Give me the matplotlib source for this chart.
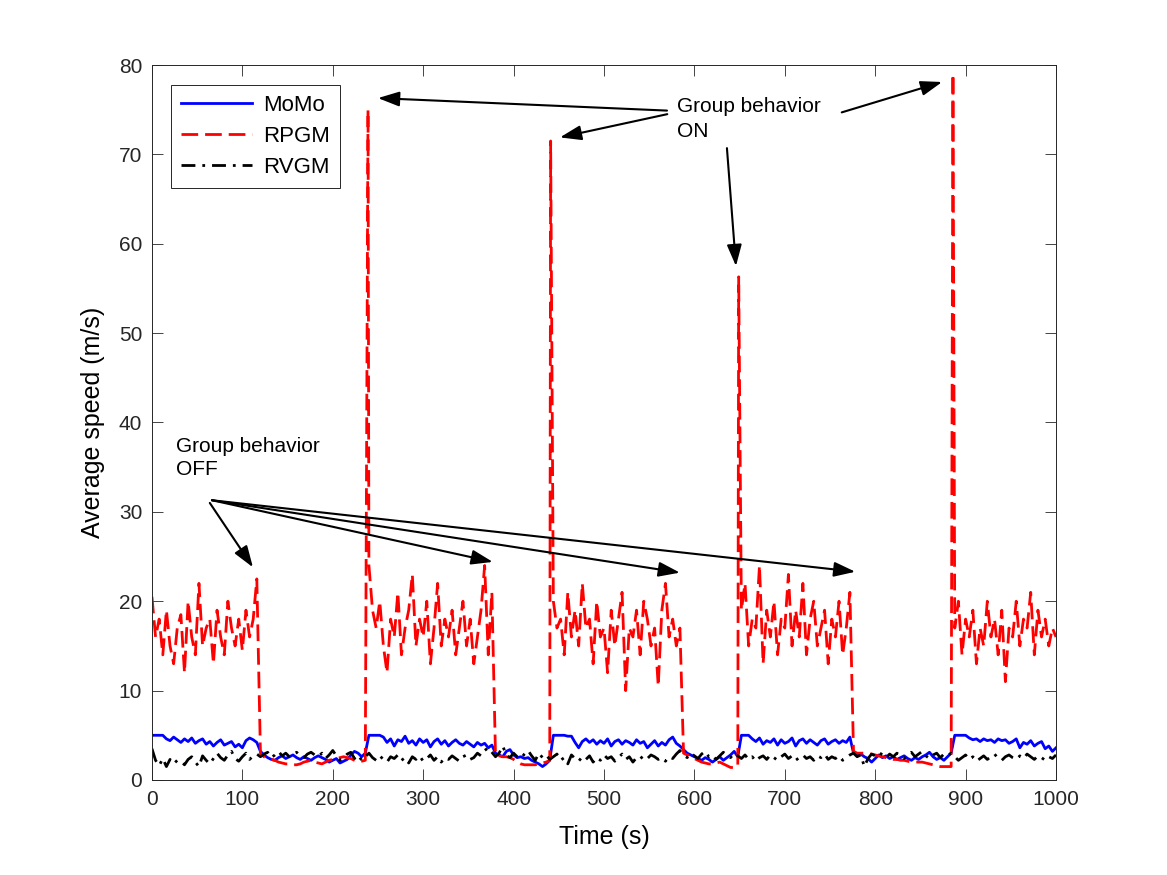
import numpy as np
import matplotlib
matplotlib.use("Agg")
import matplotlib.pyplot as plt

# ---------------- data ----------------
time = np.arange(0, 1001, 4)

momo = [
    # 0..116
    5, 5, 5, 5, 4.6, 4.4, 4.8, 4.5, 4.2, 4.6, 4.3, 4.7, 4.1, 4.4, 4.6, 4.0, 4.3, 3.8, 4.2, 4.5,
    3.9, 4.1, 4.3, 3.7, 4.0, 3.6, 4.4, 4.7, 4.5, 4.2,
    # 120..236
    3.2, 2.8, 2.5, 2.3, 2.2, 2.5, 2.7, 2.4, 2.6, 2.8, 2.5, 2.3, 2.6, 2.4, 2.2, 2.5, 2.7, 2.5, 2.3, 2.0,
    2.2, 2.4, 1.9, 2.1, 2.3, 2.8, 3.2, 3.0, 2.6, 3.0,
    # 240..376
    5, 5, 5, 5, 4.8, 4.2, 4.6, 3.8, 4.5, 4.3, 4.9, 4.1, 4.4, 3.9, 4.6, 4.2, 4.5, 3.7, 4.3, 4.6,
    4.0, 4.4, 3.8, 4.2, 4.5, 4.1, 3.9, 4.3, 4.0, 3.7, 4.2, 3.9, 4.1, 3.6, 3.9,
    # 380..440
    3.0, 2.8, 2.6, 3.2, 3.4, 2.8, 2.5, 2.6, 2.4, 2.5, 2.2, 2.0, 1.8, 1.5, 1.8, 2.2,
    # 444..584
    5, 5, 5, 5, 4.9, 4.9, 4.2, 3.6, 4.3, 4.6, 4.2, 4.5, 4.0, 4.4, 4.1, 4.6, 3.8, 4.3, 4.5, 4.0,
    4.4, 4.2, 3.9, 4.5, 4.1, 4.3, 3.6, 4.0, 4.4, 3.8, 4.2, 3.9, 4.5, 4.8, 4.1, 3.8,
    # 588..648
    3.4, 3.0, 2.8, 2.6, 2.4, 2.2, 2.5, 2.3, 2.0, 2.3, 2.6, 2.2, 2.5, 2.8, 3.2, 2.6,
    # 652..772
    5, 5, 5, 4.6, 4.3, 4.7, 4.0, 4.4, 4.2, 4.6, 3.9, 4.5, 4.1, 4.3, 4.7, 3.8, 4.4, 4.6, 4.1, 4.5,
    4.2, 3.9, 4.4, 4.6, 4.0, 4.3, 4.5, 4.1, 4.4, 4.2, 4.8,
    # 776..884
    3.0, 2.8, 2.9, 2.6, 2.4, 2.0, 2.4, 2.8, 2.5, 2.7, 2.4, 2.6, 2.3, 2.5, 2.7, 2.4, 2.2, 2.5, 2.3, 2.6,
    2.8, 3.1, 2.6, 2.3, 2.5, 2.2, 2.6, 3.0,
    # 888..1000
    5, 5, 5, 5, 4.7, 4.5, 4.6, 4.3, 4.6, 4.4, 4.5, 4.2, 4.6, 4.4, 4.5, 4.1, 4.3, 4.6, 3.6, 4.2,
    4.0, 4.4, 3.8, 4.1, 4.3, 3.5, 3.8, 3.2, 3.6,
]

rpgm = [
    # 0..116
    20.5, 16, 18, 14, 19, 15, 13, 17, 18.5, 12, 20, 16, 14, 22, 15, 17, 18, 13, 19, 16,
    14, 20, 17, 15, 18, 14.5, 19, 16, 18, 22.5,
    # 120..236
    3.0, 2.6, 2.4, 2.3, 2.2, 2.0, 1.9, 1.8, 1.8, 1.7, 1.7, 1.8, 2.0, 2.1, 2.2, 2.0, 1.9, 1.8, 2.0, 2.2,
    2.3, 2.4, 2.5, 2.6, 2.5, 2.4, 2.2, 2.0, 2.1, 2.2,
    # 240..376
    24, 19, 17, 20, 15, 12, 18, 16, 21, 14, 17, 19, 23, 15, 18, 16, 20, 13, 17, 22,
    15, 18, 16, 19, 14, 17, 20, 15, 18, 13, 16, 19, 24, 14, 21,
    # 380..440
    2.8, 2.7, 2.6, 2.6, 2.5, 2.3, 2.0, 1.8, 1.7, 1.7, 1.7, 1.7, 1.8, 1.9, 2.0, 2.2,
    # 444..584
    20, 17, 18, 14, 21, 16, 19, 15, 22, 17, 18, 13, 20, 16, 17, 12, 19, 15, 18, 21,
    10, 17, 16, 19, 14, 20, 18, 15, 17, 10.5, 19, 22, 16, 18, 15, 17,
    # 588..648
    3.0, 2.8, 2.6, 2.4, 2.2, 2.0, 1.9, 1.8, 1.8, 1.9, 2.0, 1.8, 1.6, 1.4, 1.4, 1.5,
    # 652..772
    19, 22, 15, 18, 17, 24, 13, 19, 16, 20, 14, 18, 17, 23, 15, 19, 16, 22, 14, 18,
    20, 15, 17, 19, 13, 18, 16, 20, 14, 17, 21,
    # 776..884
    3.2, 3.0, 3.0, 3.0, 2.9, 2.9, 2.8, 2.7, 2.6, 2.5, 2.4, 2.3, 2.3, 2.2, 2.2, 2.1, 2.0, 2.0, 2.0, 2.0,
    1.9, 1.8, 1.7, 1.6, 1.5, 1.5, 1.5, 1.5,
    # 888..1000
    17, 20, 14, 18, 16, 19, 13, 17, 15, 20, 16, 18, 14, 19, 11, 17, 16, 20, 15, 18,
    17, 21, 14, 19, 16, 18, 15, 17, 16,
]

# RPGM peaks when group behaviour switches on
spike_time = [239, 441, 649, 886]
spike_speed = [75, 71.5, 56.3, 79]

rvgm = [
    3.5, 2.2, 1.6, 2.4, 1.5, 2.3, 1.8, 2.2, 2.1, 1.7,
    2.3, 2.6, 2.0, 1.5, 2.7, 2.2, 1.8, 2.4, 3.0, 2.5,
    2.2, 2.8, 3.2, 2.4, 2.1, 2.6, 3.0, 2.3, 2.7, 2.9,
    2.6, 2.9, 3.1, 2.5, 2.8, 3.2, 2.7, 3.0, 2.6, 2.9,
    3.1, 2.7, 2.5, 2.9, 3.1, 2.8, 2.6, 3.0, 2.4, 2.8,
    3.3, 2.7, 2.2, 2.5, 2.9, 3.1, 2.4, 2.8, 2.2, 2.6,
    3.0, 2.5, 2.2, 2.7, 2.3, 2.0, 2.6, 2.4, 2.8, 2.2,
    2.5, 1.9, 2.6, 2.3, 2.7, 2.1, 2.4, 2.8, 2.2, 2.6,
    2.0, 2.5, 2.3, 2.7, 2.4, 2.1, 2.6, 2.8, 2.3, 2.5,
    3.0, 2.7, 3.3, 3.6, 3.1, 2.6, 3.0, 3.8, 2.8, 2.5,
    3.0, 2.6, 2.4, 2.9, 3.3, 2.7, 2.2, 3.0, 2.5, 2.8,
    2.3, 2.6, 2.9, 2.2, 2.5, 1.8, 2.8, 2.4, 2.1, 2.6,
    2.3, 2.7, 2.0, 2.5, 2.2, 2.8, 2.4, 2.6, 2.1, 2.5,
    2.9, 2.3, 2.6, 2.0, 2.5, 2.7, 2.2, 2.4, 2.8, 2.6,
    2.3, 2.5, 2.1, 2.6, 2.4, 2.9, 3.3, 2.8, 2.5, 3.0,
    2.7, 2.4, 2.9, 3.2, 2.6, 2.8, 2.3, 2.7, 3.1, 2.8,
    2.5, 3.0, 2.7, 2.4, 2.8, 2.3, 2.6, 2.1, 2.5, 2.7,
    2.3, 2.8, 2.5, 2.2, 2.6, 2.9, 2.4, 2.7, 2.2, 2.5,
    2.8, 2.4, 2.6, 2.2, 2.7, 2.5, 2.9, 2.3, 2.6, 2.4,
    2.7, 2.2, 2.5, 2.8, 3.0, 2.6, 2.8, 1.5, 2.4, 2.9,
    2.7, 3.1, 2.8, 2.5, 2.9, 2.6, 3.0, 2.7, 2.4, 2.8,
    3.1, 2.6, 2.9, 3.2, 2.7, 2.4, 2.8, 3.0, 2.5, 2.9,
    2.7, 3.0, 2.6, 2.2, 2.5, 2.8, 2.3, 2.6, 2.1, 2.4,
    2.7, 2.3, 2.6, 2.9, 2.4, 2.2, 2.6, 2.8, 2.5, 2.3,
    2.7, 2.4, 2.9, 2.6, 2.3, 2.7, 2.5, 2.2, 2.6, 2.4,
    2.8,
]

series_labels = ["MoMo", "RPGM", "RVGM"]
x_ticks = list(range(0, 1001, 100))
y_ticks = list(range(0, 81, 10))

# merge the RPGM switch-on peaks into its time line
rp_t = np.concatenate([time, spike_time])
rp_v = np.concatenate([np.array(rpgm, dtype=float), spike_speed])
order = np.argsort(rp_t, kind="stable")
rp_t, rp_v = rp_t[order], rp_v[order]

# ---------------- figure ----------------
plt.rcParams["font.family"] = ["Liberation Sans", "DejaVu Sans"]
fig = plt.figure(figsize=(11.67, 8.75), dpi=100)
fig.patch.set_facecolor("white")
ax = fig.add_axes([0.1302, 0.1086, 0.7747, 0.8171])

lw = 2.0
ax.plot(time, momo, color=(0, 0, 1), lw=lw, label=series_labels[0])
ax.plot(rp_t, rp_v, color=(1, 0, 0), lw=lw, dashes=(6, 2.5), label=series_labels[1])
ax.plot(time, rvgm, color="black", lw=lw, dashes=(5, 2.5, 1, 2.5), label=series_labels[2])

ax.set_xlim(0, 1000)
ax.set_ylim(0, 80)
ax.set_xticks(x_ticks)
ax.set_yticks(y_ticks)
ax.tick_params(direction="in", top=True, right=True, length=8, width=0.6,
               labelsize=15, pad=7, colors="#262626")
for s in ax.spines.values():
    s.set_linewidth(0.7)
    s.set_color("#262626")

ax.set_xlabel("Time (s)", fontsize=18, labelpad=12)
ax.set_ylabel("Average speed (m/s)", fontsize=18, labelpad=10)

leg = ax.legend(loc="upper left", bbox_to_anchor=(0.021, 0.972), borderaxespad=0,
                fontsize=16, fancybox=False, framealpha=1, edgecolor="#262626",
                handlelength=3.2, handletextpad=0.5, borderpad=0.45, labelspacing=0.45)
leg.get_frame().set_linewidth(0.7)

# annotations
ax.text(580.7, 76.4, "Group behavior\nON", fontsize=15, va="top", ha="left", linespacing=1.4)
ax.text(26.5, 38.4, "Group behavior\nOFF", fontsize=15, va="top", ha="left", linespacing=1.3)

ap = dict(arrowstyle="-|>,head_length=1.3,head_width=0.45", color="black", lw=1.5,
          shrinkA=0, shrinkB=0)
on_arrows = [((569.7, 74.9), (250, 76.3)),
             ((570, 74.5), (451.3, 71.9)),
             ((636, 70.7), (646, 57.5)),
             ((763, 74.7), (874, 78.1))]
off_arrows = [((64, 31.0), (111.7, 23.8)),
              ((66.4, 31.3), (377, 24.4)),
              ((66.4, 31.3), (584, 23.2)),
              ((66.4, 31.3), (778, 23.3))]
for start, end in on_arrows + off_arrows:
    ax.annotate("", xy=end, xytext=start, arrowprops=ap)

fig.savefig("out.png", dpi=100, facecolor="white")
